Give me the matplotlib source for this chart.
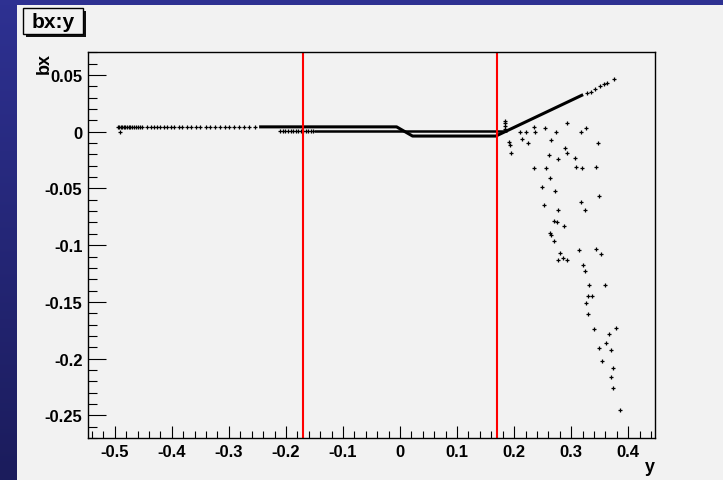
import numpy as np
import matplotlib
matplotlib.use("Agg")
import matplotlib.pyplot as plt
from matplotlib.patches import Rectangle
from matplotlib.ticker import MultipleLocator, FixedLocator, FuncFormatter

# --- bx versus y scatter ---

# sparse points of the flat track on the left (bx ~ +0.0045)
left_y = [-0.495, -0.492, -0.4895, -0.487, -0.484, -0.482, -0.479, -0.476,
          -0.473, -0.470, -0.467, -0.463, -0.460, -0.456, -0.453, -0.443,
          -0.437, -0.432, -0.426, -0.420, -0.414, -0.408, -0.402, -0.397,
          -0.388, -0.382, -0.374, -0.367, -0.358, -0.350, -0.341, -0.333,
          -0.325, -0.316, -0.307, -0.300, -0.291, -0.282, -0.273, -0.264,
          -0.254]
left_bx = [0.0045] * len(left_y)

# sparse points of the middle track (bx ~ 0)
mid_y = [-0.491, -0.210, -0.206, -0.201, -0.197, -0.192, -0.188, -0.183,
         -0.179, -0.174, -0.170, -0.165, -0.161, -0.156, -0.152]
mid_bx = [-0.0005, 0.0006, 0.0006, 0.0006, 0.0006, 0.0006, 0.0006, 0.0006,
          0.0006, 0.0006, 0.0006, 0.0006, 0.0006, 0.0006, 0.0006]

# densely filled tracks (points so close they form a band)
upper_y = [-0.247, -0.006, 0.022, 0.168, 0.321]
upper_bx = [0.0043, 0.0043, -0.0038, -0.0038, 0.0327]
middle_y = [-0.150, 0.188]
middle_bx = [0.0008, 0.0008]

# tail of the diagonal track
tail_y = [0.3275, 0.3346, 0.3421, 0.3509, 0.3579, 0.3637, 0.3754]
tail_bx = [0.0342, 0.0353, 0.0377, 0.0401, 0.0418, 0.0430, 0.0465]

# scattered points beyond the right cut
scat_y = [0.184, 0.184, 0.184, 0.184,
          0.191, 0.192, 0.194, 0.211, 0.2205, 0.234, 0.236, 0.2146, 0.2246,
          0.254, 0.2737, 0.2655, 0.2936, 0.3164, 0.3257, 0.3462, 0.2620,
          0.2767, 0.2900, 0.2936, 0.3070, 0.2357, 0.2561, 0.3088, 0.3199,
          0.3427, 0.2637, 0.2485, 0.2713, 0.3480, 0.3181, 0.2521, 0.2767,
          0.3240, 0.2696, 0.2754, 0.2883, 0.2637, 0.2655, 0.2696, 0.3135,
          0.3427, 0.3521, 0.2807, 0.2865, 0.2767, 0.2924, 0.3205, 0.3240,
          0.3316, 0.3596, 0.3293, 0.3374, 0.3257, 0.3293, 0.3409, 0.3784,
          0.3672, 0.3614, 0.3486, 0.3690, 0.3544, 0.3731, 0.3690, 0.3731,
          0.3860]
scat_bx = [0.0097, 0.0075, 0.0050, 0.0025,
           -0.0088, -0.0117, -0.0190, 0.0, 0.0, 0.0044, 0.0, -0.0062, -0.0097,
           0.0035, 0.0, -0.0070, 0.0074, 0.0, 0.0035, -0.0097, -0.0203,
           -0.0241, -0.0144, -0.0191, -0.0232, -0.0317, -0.0317, -0.0309,
           -0.0317, -0.0309, -0.0412, -0.0488, -0.0523, -0.0565, -0.0620,
           -0.0647, -0.0694, -0.0694, -0.0791, -0.0800, -0.0830, -0.0894,
           -0.0906, -0.0962, -0.1044, -0.1035, -0.1082, -0.1073, -0.1112,
           -0.1130, -0.1130, -0.1176, -0.1227, -0.1347, -0.1347, -0.1444,
           -0.1444, -0.1509, -0.1606, -0.1739, -0.1730, -0.1786, -0.1859,
           -0.1906, -0.1927, -0.2021, -0.2086, -0.2162, -0.2260, -0.2456]

cuts = [-0.17, 0.17]
x_ticks = [-0.5, -0.4, -0.3, -0.2, -0.1, 0, 0.1, 0.2, 0.3, 0.4]
y_ticks = [0.05, 0, -0.05, -0.1, -0.15, -0.2, -0.25]

plt.rcParams['font.family'] = ['Liberation Sans', 'DejaVu Sans']
plt.rcParams['font.weight'] = 'bold'

W, H = 723, 481
fig = plt.figure(figsize=(W / 100, H / 100), dpi=100)
fig.patch.set_facecolor('#f2f2f2')

# canvas frame: blue strips at the top and on the left
bg = fig.add_axes([0, 0, 1, 1], zorder=-1)
bg.set_xlim(0, W)
bg.set_ylim(H, 0)
bg.axis('off')
bg.add_patch(Rectangle((0, 0), W, 6, color='#2e3192', lw=0))
grad = np.linspace(0, 1, 256).reshape(-1, 1)
cmap = matplotlib.colors.LinearSegmentedColormap.from_list('bl', ['#2e3192', '#1b1c5c'])
bg.imshow(grad, cmap=cmap, extent=(0, 17, H, 0), aspect='auto')
bg.set_xlim(0, W)
bg.set_ylim(H, 0)

# title box with drop shadow
bg.add_patch(Rectangle((26, 12), 60, 26, color='#111111', lw=0))
bg.add_patch(Rectangle((23, 9), 60, 26, facecolor='#f2f2f2', edgecolor='black', lw=1))
bg.text(53, 22.5, 'bx:y', ha='center', va='center', fontsize=15, fontweight='bold')

ax = fig.add_axes([88 / W, 1 - 439 / H, 567 / W, 386 / H])
ax.set_facecolor('#f2f2f2')

mk = dict(marker='+', ms=2.4, mew=0.9, color='black', ls='none')
ax.plot(left_y, left_bx, **mk)
ax.plot(mid_y, mid_bx, **mk)
ax.plot(upper_y, upper_bx, color='black', lw=2.2, solid_capstyle='butt')
ax.plot(middle_y, middle_bx, color='black', lw=1.8, solid_capstyle='butt')
ax.plot(tail_y, tail_bx, **mk)
ax.plot(scat_y, scat_bx, **mk)

for c in cuts:
    ax.axvline(c, color='red', lw=1.5)

ax.set_xlim(-0.547, 0.447)
ax.set_ylim(-0.270, 0.0703)

fmt = FuncFormatter(lambda v, _: f'{v:g}')
ax.xaxis.set_major_locator(FixedLocator(x_ticks))
ax.yaxis.set_major_locator(FixedLocator(y_ticks))
ax.xaxis.set_minor_locator(MultipleLocator(0.02))
ax.yaxis.set_minor_locator(MultipleLocator(0.01))
ax.xaxis.set_major_formatter(fmt)
ax.yaxis.set_major_formatter(fmt)

ax.tick_params(axis='both', direction='in', width=0.8, labelsize=12, pad=4)
ax.tick_params(axis='x', which='major', length=8.6)
ax.tick_params(axis='x', which='minor', length=4.7, width=0.8, direction='in')
ax.tick_params(axis='y', which='major', length=13)
ax.tick_params(axis='y', which='minor', length=6.5, width=0.8, direction='in')
for lab in ax.get_xticklabels() + ax.get_yticklabels():
    lab.set_fontweight('bold')
for s in ax.spines.values():
    s.set_linewidth(1)

ax.text(1.0, -0.052, 'y', transform=ax.transAxes, ha='right', va='top',
        fontsize=13, fontweight='bold')
ax.text(-0.0776, 1.0, 'bx', transform=ax.transAxes, rotation=90,
        ha='center', va='top', fontsize=13, fontweight='bold')

fig.savefig('out.png', dpi=100, facecolor=fig.get_facecolor())
